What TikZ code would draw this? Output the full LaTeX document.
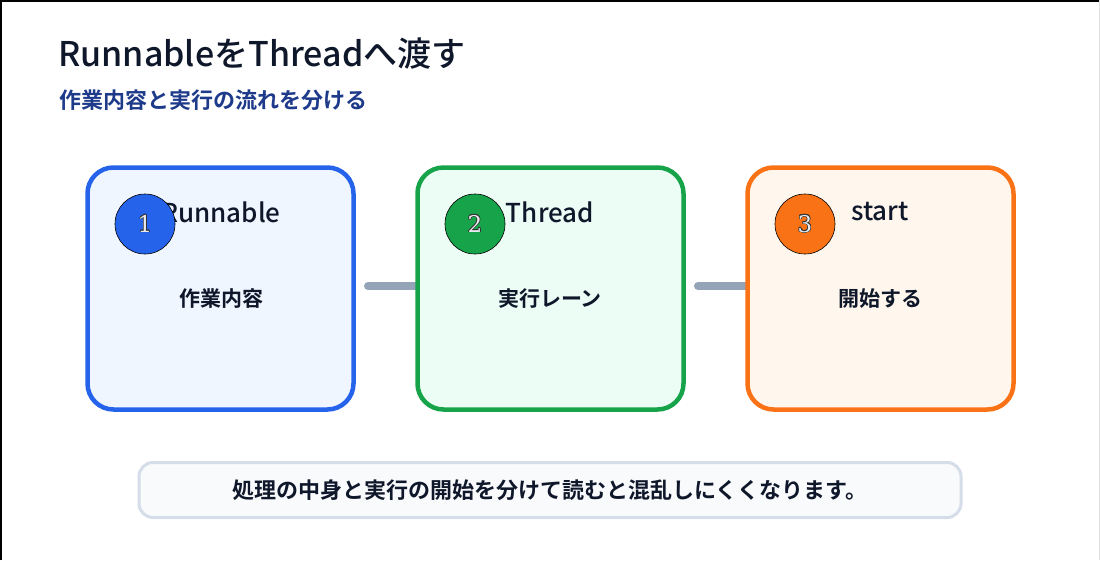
\documentclass[tikz,border=0pt]{standalone}
\usepackage{fontspec}
\usepackage{contour}
\setmainfont{Noto Sans CJK JP}
\newfontfamily\jpbold{Noto Sans CJK JP Bold}
\newfontfamily\jpmed{Noto Sans CJK JP Medium}
\newfontfamily\numfont{DejaVu Serif}
\contourlength{0.5pt}
\definecolor{ink}{HTML}{0F172A}
\definecolor{subink}{HTML}{1E3A8A}
\definecolor{bluebd}{HTML}{2563EB}
\definecolor{bluefill}{HTML}{EFF6FF}
\definecolor{greenbd}{HTML}{16A34A}
\definecolor{greenfill}{HTML}{ECFDF5}
\definecolor{orangebd}{HTML}{F97316}
\definecolor{orangefill}{HTML}{FFF7ED}
\definecolor{conn}{HTML}{94A3B8}
\definecolor{notebd}{HTML}{D5DDE8}
\definecolor{notefill}{HTML}{F8FAFC}
\definecolor{numfill}{HTML}{E8EAEE}
\newcommand{\badgenum}[1]{\contour{black!80}{\textcolor{numfill}{#1}}}
\tikzset{
  card/.style={draw, line width=4.5pt, rounded corners=26pt, minimum width=266pt, minimum height=242pt, inner sep=0pt},
  badge/.style={circle, draw=black, line width=0.6pt, minimum size=60pt, inner sep=0pt, font=\numfont\fontsize{23}{23}\selectfont},
  cardtitle/.style={text=ink, font=\jpmed\fontsize{26}{28}\selectfont, anchor=center},
  cardbody/.style={text=ink, font=\jpbold\fontsize{21}{23}\selectfont, anchor=center},
  link/.style={draw=conn, line width=8pt, line cap=round},
}
\begin{document}
\begin{tikzpicture}[x=1pt,y=-1pt]
\path[use as bounding box, fill=white] (0,0) rectangle (1100,560);
\draw[black, line width=1.5pt] (0.75,560) -- (0.75,0.75) -- (1100,0.75);
\draw[black!12, line width=1pt] (1099.5,0) -- (1099.5,560);
\node[anchor=base west, text=ink, font=\jpmed\fontsize{34}{36}\selectfont, inner sep=0pt] (title) at (58,66) {RunnableをThreadへ渡す};
\node[anchor=base west, text=subink, font=\jpbold\fontsize{22}{24}\selectfont, inner sep=0pt] (sub) at (59,108) {作業内容と実行の流れを分ける};
% connectors
\coordinate (l1s) at (368,286);
\coordinate (l2s) at (698,286);
\node[card, draw=bluebd, fill=bluefill, opacity=0] (c1g) at (220.5,288.5) {};
\node[card, draw=greenbd, fill=greenfill, opacity=0] (c2g) at (550.5,288.5) {};
\node[card, draw=orangebd, fill=orangefill, opacity=0] (c3g) at (880.5,288.5) {};
\draw[link] (l1s) -- (c2g.west |- l1s);
\draw[link] (l2s) -- (c3g.west |- l2s);
% cards
\node[card, draw=bluebd, fill=bluefill] (c1) at (220.5,288.5) {};
\node[card, draw=greenbd, fill=greenfill] (c2) at (550.5,288.5) {};
\node[card, draw=orangebd, fill=orangefill] (c3) at (880.5,288.5) {};
\node[cardtitle] (t1) at (221,212) {Runnable};
\node[cardtitle] (t2) at (550,212) {Thread};
\node[cardtitle] (t3) at (880,212) {start};
\node[badge, fill=bluebd] (b1) at (145,224) {\badgenum{1}};
\node[badge, fill=greenbd] (b2) at (475,224) {\badgenum{2}};
\node[badge, fill=orangebd] (b3) at (805,224) {\badgenum{3}};
\node[cardbody] (d1) at (221,299) {作業内容};
\node[cardbody] (d2) at (550,299) {実行レーン};
\node[cardbody] (d3) at (880,299) {開始する};
% note
\node[draw=notebd, fill=notefill, line width=3pt, rounded corners=14pt, minimum width=822pt, minimum height=55pt, inner sep=0pt, text=ink, font=\jpbold\fontsize{22}{24}\selectfont] (note) at (550,490) {処理の中身と実行の開始を分けて読むと混乱しにくくなります。};
\end{tikzpicture}
\end{document}
